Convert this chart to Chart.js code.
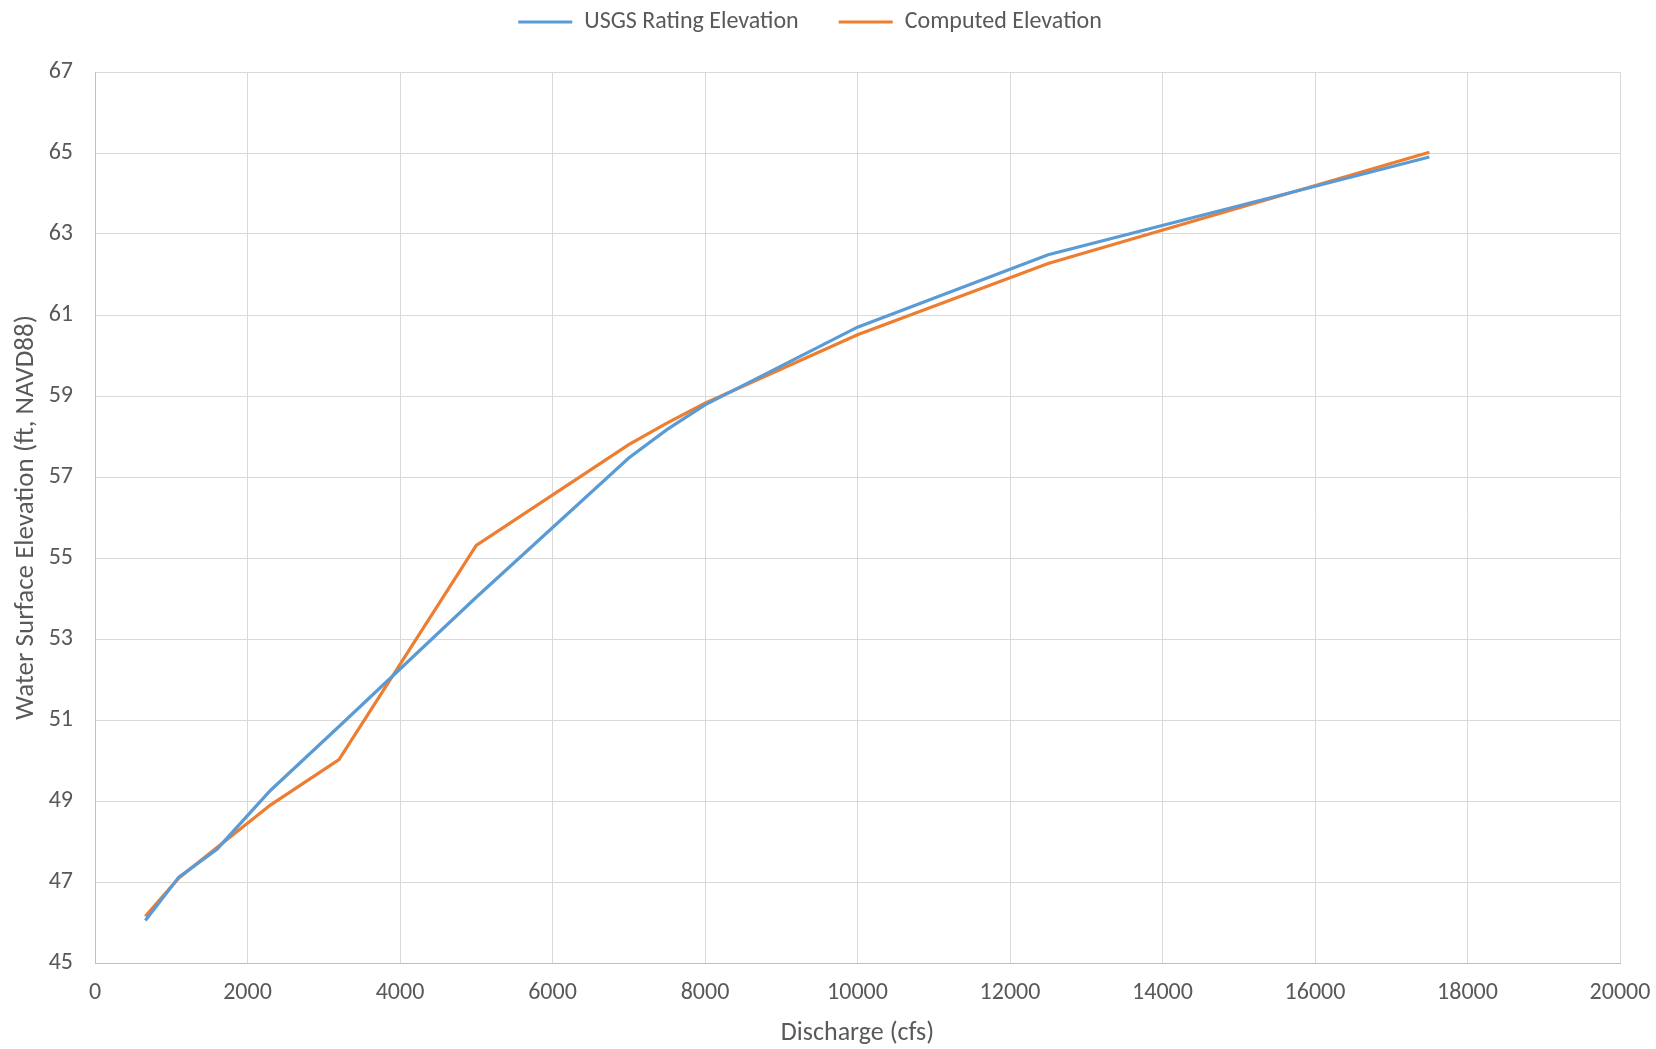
<!DOCTYPE html>
<html>
<head>
<meta charset="utf-8">
<script src="https://cdn.jsdelivr.net/npm/chart.js@4"></script>
<style>
  html, body { margin: 0; padding: 0; background: #ffffff; }
  #wrap { width: 1656px; height: 1049px; }
</style>
</head>
<body>
<div id="wrap"><canvas id="c" width="1656" height="1049"></canvas></div>
<script>
// ---- Data ----
const seriesNames = ['USGS Rating Elevation', 'Computed Elevation'];
const usgsDischarge = [660, 1100, 1600, 2300, 3200, 5000, 7000, 7500, 8000, 10000, 12500, 17500];
const usgsElevation = [46.05, 47.12, 47.81, 49.26, 50.84, 54.03, 57.47, 58.17, 58.78, 60.70, 62.49, 64.90];
const computedDischarge = [660, 1100, 1600, 2300, 3200, 5000, 7000, 7500, 8000, 10000, 12500, 17500];
const computedElevation = [46.15, 47.10, 47.85, 48.90, 50.02, 55.31, 57.80, 58.33, 58.82, 60.51, 62.27, 65.02];
const xTicks = [0, 2000, 4000, 6000, 8000, 10000, 12000, 14000, 16000, 18000, 20000];
const yTicks = [45, 47, 49, 51, 53, 55, 57, 59, 61, 63, 65, 67];
const xTitle = 'Discharge (cfs)';
const yTitle = 'Water Surface Elevation (ft, NAVD88)';

const FONT = 'Carlito, Calibri, Lato, sans-serif';
const TEXT = '#595959';

const toPoints = (xs, ys) => xs.map((x, i) => ({ x: x, y: ys[i] }));

const legendHeight = {
  id: 'legendHeight',
  beforeInit(chart) {
    const orig = chart.legend.fit;
    chart.legend.fit = function () {
      orig.bind(chart.legend)();
      this.height = 102;
    };
  }
};

new Chart(document.getElementById('c'), {
  type: 'line',
  data: {
    datasets: [
      {
        label: seriesNames[0],
        data: toPoints(usgsDischarge, usgsElevation),
        borderColor: '#5B9BD5',
        backgroundColor: '#5B9BD5',
        borderWidth: 3.2,
        pointRadius: 0,
        tension: 0
      },
      {
        label: seriesNames[1],
        data: toPoints(computedDischarge, computedElevation),
        borderColor: '#ED7D31',
        backgroundColor: '#ED7D31',
        borderWidth: 3.2,
        pointRadius: 0,
        tension: 0
      }
    ]
  },
  options: {
    responsive: false,
    devicePixelRatio: 1,
    animation: false,
    layout: { padding: { left: 0, right: 36, top: -30, bottom: 0 } },
    plugins: {
      tooltip: { enabled: false },
      legend: {
        position: 'top',
        labels: {
          font: { family: FONT, size: 24 },
          color: TEXT,
          boxWidth: 54,
          boxHeight: 3,
          padding: 40,
          generateLabels(chart) {
            const items = Chart.defaults.plugins.legend.labels.generateLabels(chart);
            items.forEach(it => { it.lineWidth = 0; });
            return items;
          }
        }
      }
    },
    scales: {
      x: {
        type: 'linear',
        min: 0,
        max: 20000,
        afterBuildTicks(scale) { scale.ticks = xTicks.map(v => ({ value: v })); },
        afterFit(scale) { scale.height = 86; scale.paddingRight = 0; scale.paddingLeft = 0; },
        grid: { color: '#D9D9D9', lineWidth: 1, drawTicks: false },
        border: { color: '#BFBFBF', width: 1 },
        ticks: {
          font: { family: FONT, size: 24 },
          color: TEXT,
          padding: 16,
          maxRotation: 0,
          callback: v => String(v)
        },
        title: {
          display: true,
          text: xTitle,
          font: { family: FONT, size: 26 },
          color: TEXT,
          padding: { top: 0, bottom: 0 }
        }
      },
      y: {
        type: 'linear',
        min: 45,
        max: 67,
        afterBuildTicks(scale) { scale.ticks = yTicks.map(v => ({ value: v })); },
        afterFit(scale) { scale.width = 95; scale.paddingTop = 0; scale.paddingBottom = 0; },
        grid: { color: '#D9D9D9', lineWidth: 1, drawTicks: false },
        border: { color: '#BFBFBF', width: 1 },
        ticks: {
          font: { family: FONT, size: 24 },
          color: TEXT,
          padding: 22,
          callback: v => String(v)
        },
        title: {
          display: true,
          text: yTitle,
          font: { family: FONT, size: 27 },
          color: TEXT,
          padding: { top: 10, bottom: 0 }
        }
      }
    }
  },
  plugins: [legendHeight]
});
</script>
</body>
</html>
